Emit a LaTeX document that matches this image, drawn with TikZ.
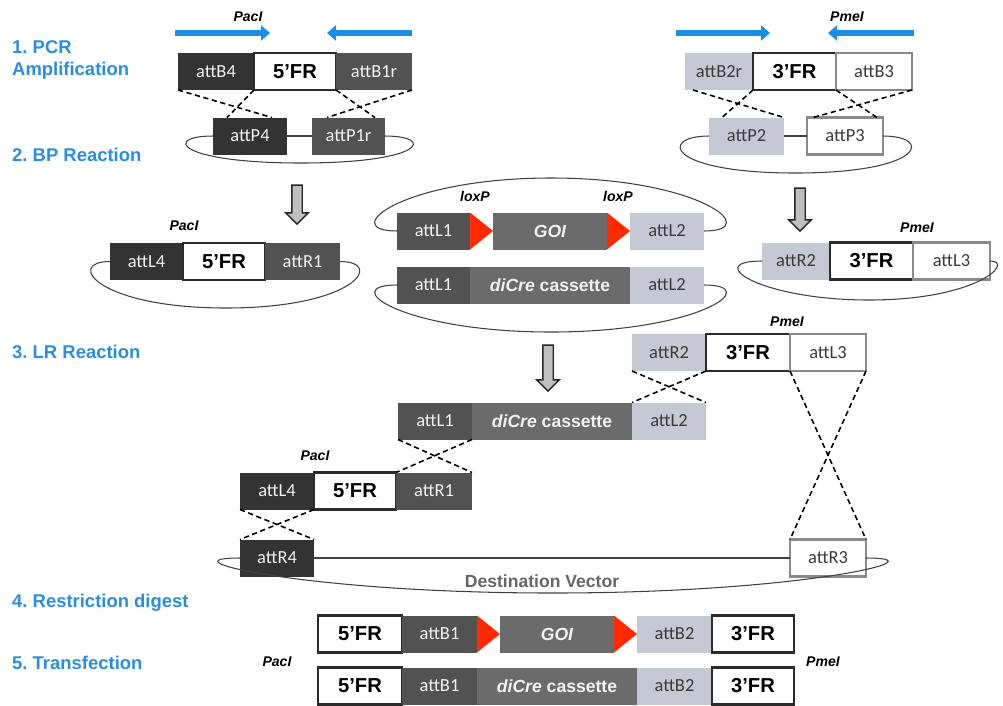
\documentclass[tikz,border=0pt]{standalone}
\usepackage{fontspec}
\setmainfont{Liberation Sans}
\newfontfamily\attfam{Carlito}
\usepackage{xcolor}
\usepackage{tikz}
\usetikzlibrary{arrows.meta,positioning,calc,shapes.arrows}
\frenchspacing

\definecolor{attdark}{HTML}{333333}
\definecolor{attmid}{HTML}{525252}
\definecolor{cassette}{HTML}{6B6B6B}
\definecolor{attlight}{HTML}{C4C9D3}
\definecolor{attedge}{HTML}{8A8A8A}
\definecolor{atttext}{HTML}{3A3A3A}
\definecolor{attwhite}{HTML}{F2F2F2}
\definecolor{frline}{HTML}{2B2B2B}
\definecolor{stepblue}{HTML}{2B8DE0}
\definecolor{primerblue}{HTML}{1B8FE6}
\definecolor{loxred}{HTML}{FF2A00}
\definecolor{dvgray}{HTML}{666666}

\tikzset{
  att/.style={minimum height=0.74cm, minimum width=1.5cm, inner sep=0pt, outer sep=0pt,
    font=\attfam\fontsize{10.5}{12}\selectfont},
  dk/.style={att, fill=attdark, text=attwhite},
  md/.style={att, fill=attmid, text=attwhite},
  lt/.style={att, fill=attlight, text=atttext},
  wt/.style={att, fill=white, draw=attedge, line width=1.2pt, text=atttext},
  fr/.style={att, fill=white, draw=frline, line width=1.6pt, text=black,
    font=\bfseries\fontsize{11.5}{13}\selectfont},
  cas/.style={att, fill=cassette, text=attwhite, font=\bfseries\fontsize{10}{12}\selectfont},
  enz/.style={font=\bfseries\itshape\fontsize{8}{9}\selectfont},
  steplabel/.style={anchor=west, align=left, text=stepblue,
    font=\bfseries\fontsize{10.5}{12.5}\selectfont},
  primer/.style={draw=primerblue, line width=0.13cm, -{Triangle[length=0.18cm,width=0.3cm]}},
  recomb/.style={line width=0.9pt, dash pattern=on 3pt off 2pt},
  backbone/.style={line width=0.6pt, draw=black!75},
  downarrow/.style={single arrow, draw=black!85, fill=black!25, line width=0.8pt, rotate=-90,
    inner sep=0.09cm, single arrow head extend=0.12cm, single arrow head indent=0pt}
}

\begin{document}
\begin{tikzpicture}[>=Stealth, every node/.style={font=\small}]
  \useasboundingbox (0,0) rectangle (20.06,-14.10);

  % steps
  \node[steplabel] (s1) at (0.12,-1.20) {1. PCR\\Amplification};
  \node[steplabel] (s2) at (0.12,-3.10) {2. BP Reaction};
  \node[steplabel] (s3) at (0.12,-7.04) {3. LR Reaction};
  \node[steplabel] (s4) at (0.12,-12.06) {4. Restriction digest};
  \node[steplabel] (s5) at (0.12,-13.26) {5. Transfection};

  % 1. PCR
  \coordinate (pf1) at (3.50,-0.66);
  \coordinate (pf2) at (5.40,-0.66);
  \coordinate (pr1) at (8.24,-0.66);
  \coordinate (pr2) at (6.54,-0.66);
  \coordinate (pf3) at (13.52,-0.66);
  \coordinate (pf4) at (15.40,-0.66);
  \coordinate (pr3) at (18.28,-0.66);
  \coordinate (pr4) at (16.56,-0.66);
  \draw[primer] (pf1) -- (pf2);
  \draw[primer] (pr1) -- (pr2);
  \draw[primer] (pf3) -- (pf4);
  \draw[primer] (pr3) -- (pr4);
  \node[enz] (pac1) at (4.96,-0.34) {PacI};
  \node[enz] (pme1) at (16.94,-0.34) {PmeI};

  \node[dk, anchor=west, minimum width=1.52cm] (b4) at (3.56,-1.43) {attB4};
  \node[fr, right=0pt of b4, minimum width=1.64cm] (fr5a) {5'FR};
  \node[md, right=0pt of fr5a, minimum width=1.52cm] (b1r) {attB1r};

  \node[lt, anchor=west, minimum width=1.36cm] (b2r) at (13.70,-1.43) {attB2r};
  \node[fr, right=0pt of b2r, minimum width=1.66cm] (fr3a) {3'FR};
  \node[wt, right=0pt of fr3a, minimum width=1.52cm] (b3) {attB3};

  % 2. BP
  \node[dk, anchor=west, minimum width=1.48cm] (p4) at (4.26,-2.72) {attP4};
  \node[md, anchor=west, minimum width=1.46cm] (p1r) at (6.24,-2.72) {attP1r};
  \draw[backbone] (p4) -- (p1r);
  \draw[backbone] (p4.west) .. controls +(-1.0,0) and +(-2.5,0) .. (6.02,-3.26)
    .. controls +(2.5,0) and +(1.0,0) .. (p1r.east);

  \node[lt, anchor=west, minimum width=1.5cm] (p2) at (14.18,-2.72) {attP2};
  \node[wt, anchor=west, minimum width=1.52cm] (p3) at (16.14,-2.72) {attP3};
  \draw[backbone] (p2) -- (p3);
  \draw[backbone] (p2.west) .. controls +(-1.0,0) and +(-2.6,0) .. (15.91,-3.46)
    .. controls +(2.6,0) and +(1.0,0) .. (p3.east);

  \draw[recomb] (b4.south west) -- ([xshift=-0.3cm]p4.north east);
  \draw[recomb] (b4.south east) -- ([xshift=0.28cm]p4.north west);
  \draw[recomb] (b1r.south west) -- ([xshift=-0.2cm]p1r.north east);
  \draw[recomb] (b1r.south east) -- ([xshift=0.3cm]p1r.north west);
  \draw[recomb] ([xshift=0.16cm]b2r.south west) -- (p2.north east);
  \draw[recomb] (b2r.south east) -- ([xshift=0.26cm]p2.north west);
  \draw[recomb] (b3.south west) -- ([xshift=-0.12cm]p3.north east);
  \draw[recomb] (b3.south east) -- ([xshift=0.12cm]p3.north west);

  \node[downarrow, minimum height=0.78cm] (dn1) at (5.94,-4.04) {};
  \node[downarrow, minimum height=0.86cm] (dn2) at (16.0,-4.14) {};

  % entry clones
  \node[dk, anchor=west, minimum width=1.46cm] (l4) at (2.20,-5.23) {attL4};
  \node[fr, right=0pt of l4, minimum width=1.64cm] (fr5b) {5'FR};
  \node[md, right=0pt of fr5b, minimum width=1.5cm] (r1) {attR1};
  \node[enz] (pac2) at (3.68,-4.52) {PacI};
  \draw[backbone] (l4.west) .. controls +(-0.9,0) and +(-2.6,0) .. (4.52,-6.16)
    .. controls +(2.6,0) and +(0.9,0) .. (r1.east);

  \node[md, anchor=west, minimum width=1.46cm] (l1a) at (7.94,-4.62) {attL1};
  \node[cas, right=0.46cm of l1a, minimum width=2.28cm] (goia) {\itshape GOI};
  \node[lt, right=0.46cm of goia, minimum width=1.48cm] (l2a) {attL2};
  \fill[loxred] (l1a.north east) -- (goia.west) -- (l1a.south east) -- cycle;
  \fill[loxred] (goia.north east) -- (l2a.west) -- (goia.south east) -- cycle;
  \node[enz] (lox1) at (9.50,-3.92) {loxP};
  \node[enz] (lox2) at (12.36,-3.92) {loxP};
  \draw[backbone] (l1a.west) .. controls +(-1.2,0) and +(-3.0,0) .. (11.02,-3.56)
    .. controls +(3.0,0) and +(1.2,0) .. (l2a.east);

  \node[md, anchor=west, minimum width=1.46cm] (l1b) at (7.94,-5.70) {attL1};
  \node[cas, right=0pt of l1b, minimum width=3.2cm] (crea) {{\itshape diCre} cassette};
  \node[lt, right=0pt of crea, minimum width=1.48cm] (l2b) {attL2};
  \draw[backbone] (l1b.west) .. controls +(-1.2,0) and +(-3.0,0) .. (11.02,-6.64)
    .. controls +(3.0,0) and +(1.2,0) .. (l2b.east);

  \node[lt, anchor=west, minimum width=1.36cm] (r2a) at (15.24,-5.22) {attR2};
  \node[fr, right=0pt of r2a, minimum width=1.66cm] (fr3b) {3'FR};
  \node[wt, right=0pt of fr3b, minimum width=1.54cm] (l3a) {attL3};
  \node[enz] (pme2) at (18.34,-4.56) {PmeI};
  \draw[backbone] (r2a.west) .. controls +(-1.2,0) and +(-2.2,0) .. (17.38,-6.0)
    .. controls +(2.2,0) and +(0.5,0) .. (l3a.east);

  % 3. LR
  \node[downarrow, minimum height=0.92cm] (dn3) at (10.96,-7.31) {};

  \node[lt, anchor=west, minimum width=1.48cm] (r2b) at (12.64,-7.05) {attR2};
  \node[fr, right=0pt of r2b, minimum width=1.68cm] (fr3c) {3'FR};
  \node[wt, right=0pt of fr3c, minimum width=1.52cm] (l3b) {attL3};
  \node[enz] (pme3) at (15.74,-6.44) {PmeI};

  \node[md, anchor=west, minimum width=1.48cm] (l1c) at (7.96,-8.42) {attL1};
  \node[cas, right=0pt of l1c, minimum width=3.2cm] (creb) {{\itshape diCre} cassette};
  \node[lt, right=0pt of creb, minimum width=1.48cm] (l2c) {attL2};

  \node[dk, anchor=west, minimum width=1.48cm] (l4c) at (4.80,-9.82) {attL4};
  \node[fr, right=0pt of l4c, minimum width=1.64cm] (fr5c) {5'FR};
  \node[md, right=0pt of fr5c, minimum width=1.52cm] (r1c) {attR1};
  \node[enz] (pac3) at (6.30,-9.12) {PacI};

  \node[dk, anchor=west, minimum width=1.48cm] (r4) at (4.80,-11.16) {attR4};
  \node[wt, anchor=west, minimum width=1.52cm] (r3) at (15.80,-11.16) {attR3};
  \draw[backbone] (r4) -- (r3);
  \draw[backbone] (r4.west) .. controls +(-1.6,0) and +(-5.0,0) .. (11.05,-11.86)
    .. controls +(5.0,0) and +(1.6,0) .. (r3.east);
  \node[font=\bfseries\fontsize{10}{12}\selectfont, text=dvgray] (dv) at (10.84,-11.62) {Destination Vector};

  \draw[recomb] (r2b.south west) -- (l2c.north east);
  \draw[recomb] (r2b.south east) -- (l2c.north west);
  \draw[recomb] (l1c.south west) -- (r1c.north east);
  \draw[recomb] (l1c.south east) -- (r1c.north west);
  \draw[recomb] (l4c.south west) -- (r4.north east);
  \draw[recomb] (l4c.south east) -- (r4.north west);
  \draw[recomb] (l3b.south west) -- (r3.north east);
  \draw[recomb] (l3b.south east) -- (r3.north west);

  % 4./5. final constructs
  \node[fr, anchor=west, minimum width=1.68cm] (fr5d) at (6.36,-12.68) {5'FR};
  \node[md, right=0pt of fr5d] (b1a) {attB1};
  \node[cas, right=0.46cm of b1a, minimum width=2.28cm] (goib) {\itshape GOI};
  \node[lt, right=0.46cm of goib] (b2a) {attB2};
  \node[fr, right=0pt of b2a, minimum width=1.64cm] (fr3d) {3'FR};
  \fill[loxred] (b1a.north east) -- (goib.west) -- (b1a.south east) -- cycle;
  \fill[loxred] (goib.north east) -- (b2a.west) -- (goib.south east) -- cycle;

  \node[fr, anchor=west, minimum width=1.68cm] (fr5e) at (6.36,-13.72) {5'FR};
  \node[md, right=0pt of fr5e] (b1b) {attB1};
  \node[cas, right=0pt of b1b, minimum width=3.2cm] (crec) {{\itshape diCre} cassette};
  \node[lt, right=0pt of crec] (b2b) {attB2};
  \node[fr, right=0pt of b2b, minimum width=1.64cm] (fr3e) {3'FR};
  \node[enz] (pac4) at (5.54,-13.24) {PacI};
  \node[enz] (pme4) at (16.46,-13.24) {PmeI};
\end{tikzpicture}
\end{document}
